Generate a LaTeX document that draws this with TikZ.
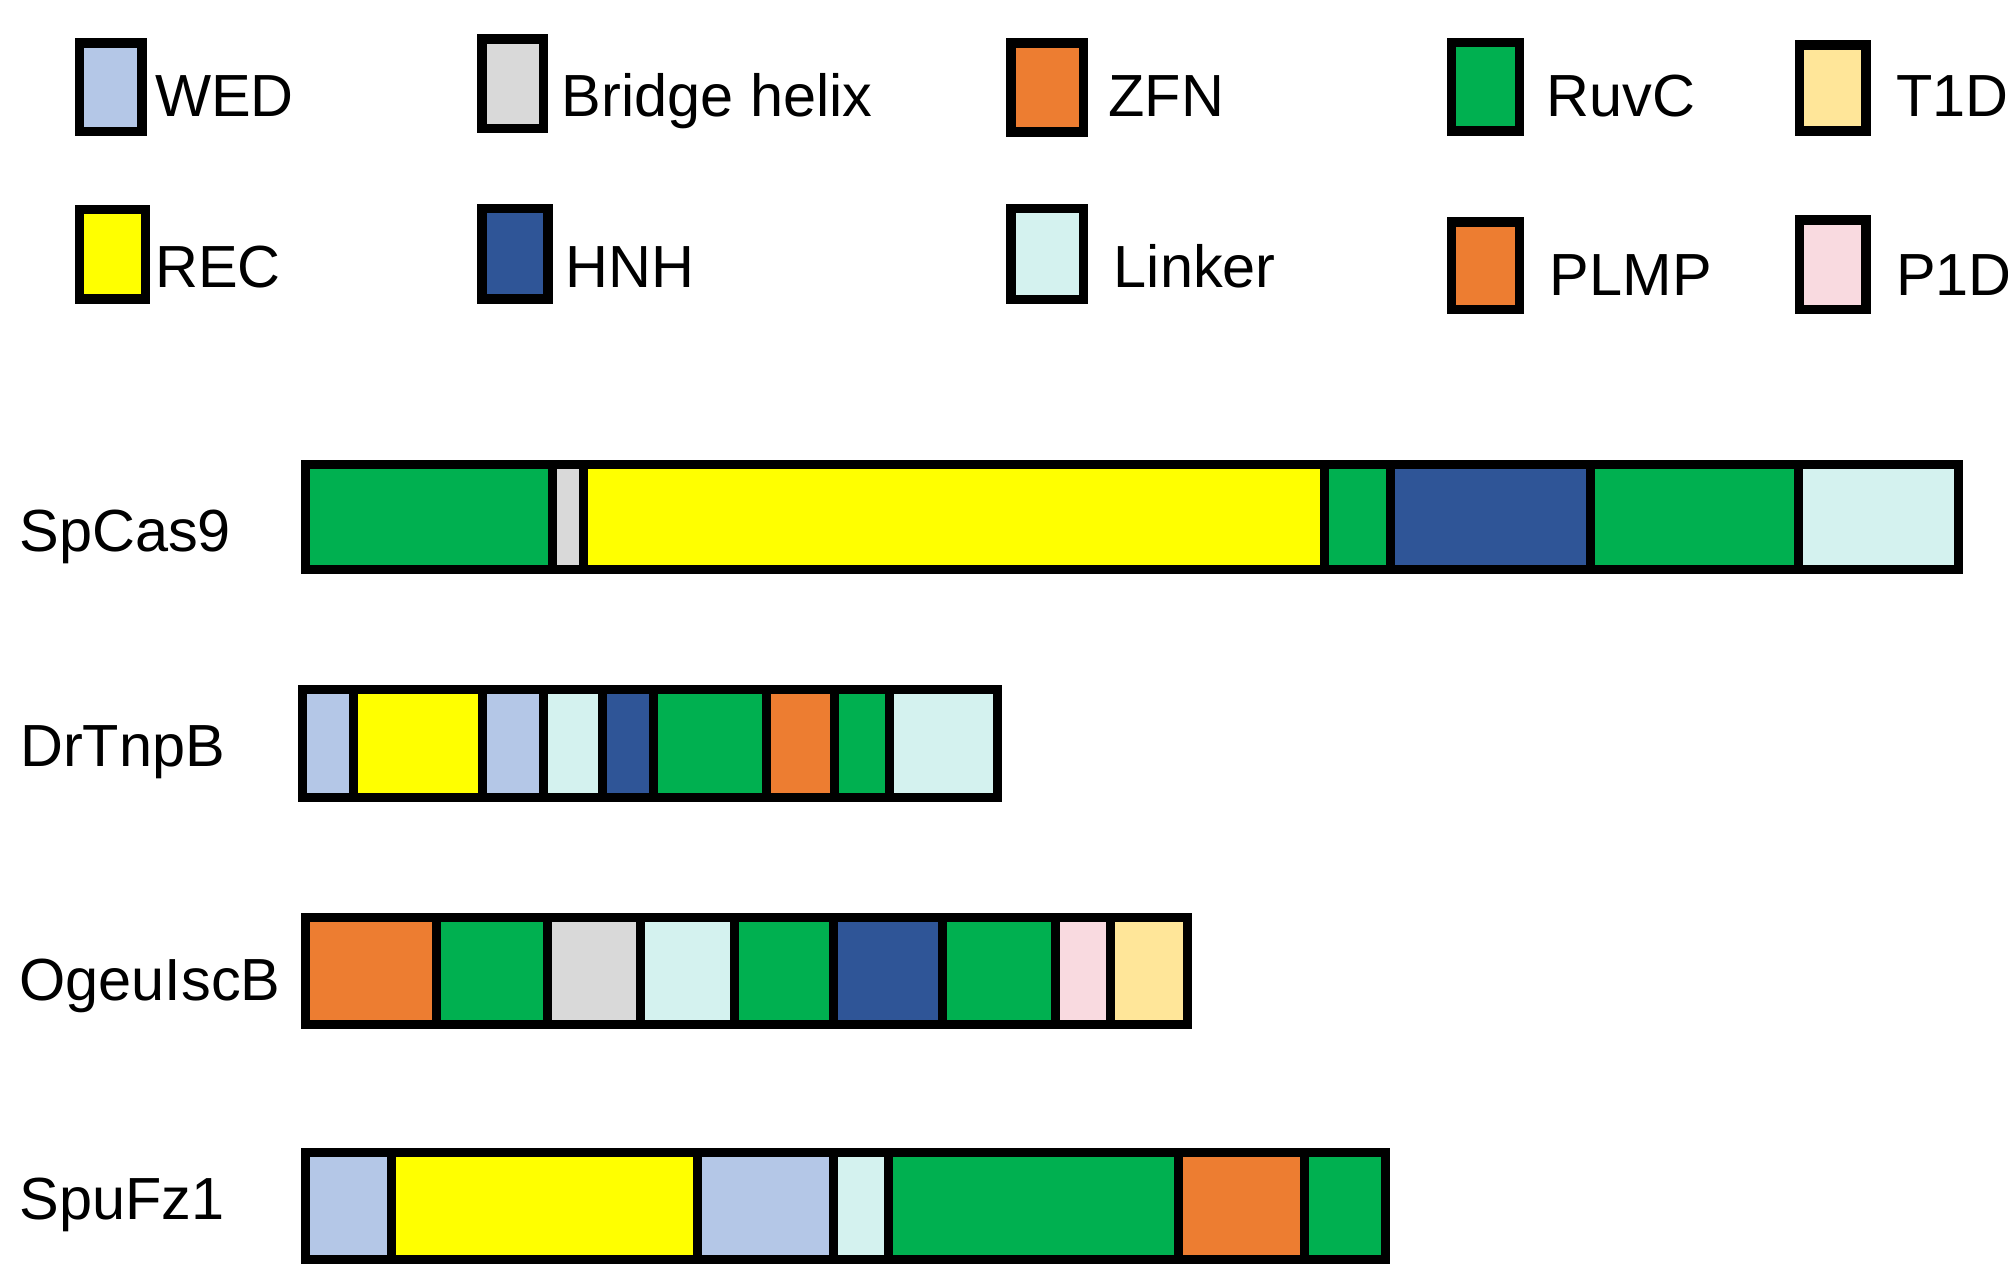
\documentclass[tikz,border=0pt]{standalone}
\usepackage{fontspec}
\setmainfont{Liberation Sans}
\definecolor{wed}{HTML}{B4C7E7}
\definecolor{bridge}{HTML}{D9D9D9}
\definecolor{zfn}{HTML}{ED7D31}
\definecolor{ruvc}{HTML}{00B050}
\definecolor{tid}{HTML}{FFE699}
\definecolor{rec}{HTML}{FFFF00}
\definecolor{hnh}{HTML}{2F5597}
\definecolor{linker}{HTML}{D4F2EF}
\definecolor{plmp}{HTML}{ED7D31}
\definecolor{pid}{HTML}{F9DAE0}
\begin{document}
\begin{tikzpicture}[x=0.01cm,y=-0.01cm,
  seg/.style={draw=black,line width=2pt,line join=miter},
  legbox/.style={draw=black,line width=2.1pt,line join=miter},
  lab/.style={anchor=base west,inner sep=0pt,font=\fontsize{13.2}{15}\selectfont}]
\useasboundingbox[fill=white] (0,0) rectangle (1568,987);
% legend
\foreach \xa/\xb/\ya/\yb/\c in {
  62/111/33.5/102.5/wed, 62/113.5/163.5/233.5/rec,
  376.5/424.5/30.3/100.3/bridge, 376.5/428/163/233.5/hnh,
  789.5/846/33.7/103.2/zfn, 789.5/846/163/233.8/linker,
  1133.5/1186.5/33/102.4/ruvc, 1133.5/1186.5/173.5/241.7/plmp,
  1405/1457/35/102.4/tid, 1405/1457/171.7/241.7/pid}
  \draw[legbox,fill=\c] (\xa,\ya) rectangle (\xb,\yb);
\node[lab] (lwed) at (120.5,91.1) {WED};
\node[lab] (lbridge) at (438,90.8) {Bridge helix};
\node[lab] (lzfn) at (865,91.1) {ZFN};
\node[lab] (lruvc) at (1207,91.1) {RuvC};
\node[lab] (ltid) at (1480,91.1) {T1D};
\node[lab] (lrec) at (120.5,224.4) {REC};
\node[lab] (lhnh) at (441,224.4) {HNH};
\node[lab] (llinker) at (869,224.4) {Linker};
\node[lab] (lplmp) at (1209.5,230.4) {PLMP};
\node[lab] (lpid) at (1480,230.4) {P1D};
% row labels
\node[lab] (nsp) at (14.5,430.3) {SpCas9};
\node[lab] (ndr) at (15,598.7) {DrTnpB};
\node[lab] (nog) at (14.5,781.4) {OgeuIscB};
\node[lab] (nsf) at (14.5,952) {SpuFz1};
% SpCas9
\foreach \xa/\xb/\c in {238.8/431.8/ruvc, 431.8/456/bridge, 456/1034.4/rec,
  1034.4/1086/ruvc, 1086/1242/hnh, 1242/1404.7/ruvc, 1404.7/1529/linker}
  \draw[seg,fill=\c] (\xa,362.5) rectangle (\xb,445);
% DrTnpB
\foreach \xa/\xb/\c in {236.6/276.2/wed, 276.2/376.5/rec, 376.5/424.2/wed,
  424.2/470.3/linker, 470.3/510.1/hnh, 510.1/598.3/ruvc, 598.3/652/zfn,
  652/694.4/ruvc, 694.4/778.7/linker}
  \draw[seg,fill=\c] (\xa,538.2) rectangle (\xb,622.4);
% OgeuIscB
\foreach \xa/\xb/\c in {238.2/341/zfn, 341/427.6/ruvc, 427.6/499.8/bridge,
  499.8/573.9/linker, 573.9/650.9/ruvc, 650.9/735.9/hnh, 735.9/824.4/ruvc,
  824.4/867.4/pid, 867.4/927.2/tid}
  \draw[seg,fill=\c] (\xa,716.5) rectangle (\xb,800.2);
% SpuFz1
\foreach \xa/\xb/\c in {238.6/305.7/wed, 305.7/545/rec, 545/651/wed,
  651/694/linker, 694/920.2/ruvc, 920.2/1018.7/zfn, 1018.7/1081.8/ruvc}
  \draw[seg,fill=\c] (\xa,900.3) rectangle (\xb,983.2);
\end{tikzpicture}
\end{document}
